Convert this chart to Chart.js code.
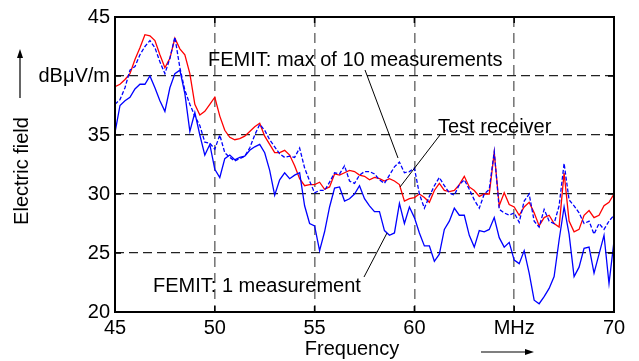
<!DOCTYPE html>
<html>
<head>
<meta charset="utf-8">
<script src="https://cdn.jsdelivr.net/npm/chart.js@4.4.1/dist/chart.umd.min.js"></script>
<style>
  html, body { margin: 0; padding: 0; background: #fff; }
  #wrap { width: 639px; height: 361px; position: relative; }
</style>
</head>
<body>
<div id="wrap"><canvas id="chart"></canvas></div>
<script>
// frequency grid in MHz
const freqs = [
  45, 45.25, 45.5, 45.75, 46, 46.25, 46.5, 46.75, 47, 47.25,
  47.5, 47.75, 48, 48.25, 48.5, 48.75, 49, 49.25, 49.5, 49.75,
  50, 50.25, 50.5, 50.75, 51, 51.25, 51.5, 51.75, 52, 52.25,
  52.5, 52.75, 53, 53.25, 53.5, 53.75, 54, 54.25, 54.5, 54.75,
  55, 55.25, 55.5, 55.75, 56, 56.25, 56.5, 56.75, 57, 57.25,
  57.5, 57.75, 58, 58.25, 58.5, 58.75, 59, 59.25, 59.5, 59.75,
  60, 60.25, 60.5, 60.75, 61, 61.25, 61.5, 61.75, 62, 62.25,
  62.5, 62.75, 63, 63.25, 63.5, 63.75, 64, 64.25, 64.5, 64.75,
  65, 65.25, 65.5, 65.75, 66, 66.25, 66.5, 66.75, 67, 67.25,
  67.5, 67.75, 68, 68.25, 68.5, 68.75, 69, 69.25, 69.5, 69.75, 70
];

// test receiver (red)
const testReceiver = [
  39.1, 39.3, 39.7, 40.2, 41.4, 42.4, 43.5, 43.4, 43.0, 41.8,
  40.7, 41.5, 43.2, 42.3, 41.8, 40.2, 37.6, 36.7, 37.0, 37.6,
  38.2, 36.6, 35.4, 34.8, 34.6, 34.7, 34.9, 35.3, 35.7, 36.0,
  34.9, 34.2, 33.5, 33.5, 33.7, 33.3, 32.4, 31.3, 30.7, 30.8,
  30.8, 31.0, 30.4, 30.6, 31.7, 31.6, 31.8, 32.0, 31.9, 31.6,
  31.5, 31.2, 31.4, 31.3, 31.1, 31.3, 31.1, 30.8, 29.4, 29.6,
  29.7, 30.0, 29.7, 29.3, 30.3, 30.9, 30.3, 30.2, 30.3, 30.8,
  31.5, 30.6, 30.3, 29.8, 30.0, 30.0, 33.5, 29.0, 30.1, 29.1,
  28.9, 28.2, 28.9, 29.3, 28.4, 27.3, 28.0, 28.2, 27.5, 27.2,
  31.8, 27.7, 26.8, 27.0, 28.2, 28.6, 28.0, 28.2, 29.0, 29.3, 30.0
];

// FEMIT, max of 10 measurements (blue dashed)
const femitMax10 = [
  37.6, 38.0, 39.0, 40.5, 40.8, 41.8, 42.5, 43.0, 42.4, 41.2,
  40.2, 41.5, 43.3, 40.7, 38.8, 37.6, 36.6, 35.8, 34.4, 34.3,
  33.8, 35.0, 33.5, 33.1, 32.8, 33.0, 33.2, 33.9, 35.0, 35.9,
  35.4, 34.6, 34.0, 33.4, 33.1, 33.2, 33.1, 33.9, 32.2, 31.1,
  30.1, 30.3, 30.3, 31.0, 31.8, 31.7, 32.4, 31.1, 30.9, 31.6,
  31.9, 31.9, 31.7, 31.2, 30.9, 31.6, 32.3, 32.7, 31.8, 31.9,
  32.2, 30.0, 28.8, 29.8, 30.7, 31.4, 30.7, 30.1, 29.9, 30.8,
  31.2, 30.4, 29.5, 28.8, 30.0, 30.4, 33.6, 28.7, 28.4, 28.2,
  28.4, 27.6, 29.4, 30.0, 27.7, 27.2, 28.7, 27.7, 27.5, 29.0,
  32.6, 29.5, 29.0, 28.4, 27.5, 27.7, 26.6, 27.5, 27.0, 27.7, 28.2
];

// FEMIT, 1 measurement (blue solid)
const femitSingle = [
  35.2, 37.5, 37.9, 38.2, 38.9, 39.3, 39.3, 40.0, 39.0, 37.9,
  37.0, 39.0, 40.2, 40.5, 38.5, 35.3, 36.9, 35.0, 33.3, 34.2,
  32.1, 31.4, 33.0, 33.3, 32.9, 33.1, 33.2, 33.7, 34.0, 34.2,
  33.5, 32.0, 29.9, 31.2, 31.8, 31.3, 31.6, 31.8, 29.0, 27.5,
  27.3, 25.2, 26.8, 28.9, 30.5, 30.6, 29.4, 29.6, 30.0, 30.7,
  29.6, 29.0, 28.5, 28.5, 26.9, 26.5, 26.7, 29.2, 27.5, 28.9,
  28.0, 26.7, 25.6, 25.6, 24.3, 24.9, 27.0, 27.7, 28.8, 28.2,
  28.2, 26.5, 25.5, 26.9, 26.8, 27.0, 28.0, 26.3, 25.5, 25.9,
  24.4, 24.1, 25.2, 23.3, 21.0, 20.7, 21.3, 22.0, 23.0, 26.1,
  28.9, 26.6, 23.0, 23.8, 25.4, 25.5, 23.3, 24.9, 26.5, 22.4, 26.0
];

// tick positions and their texts (unit replaces one number on each axis)
const xTickValues = [45, 50, 55, 60, 65, 70];
const xTickLabels = ["45", "50", "55", "60", "MHz", "70"];
const yTickValues = [20, 25, 30, 35, 40, 45];
const yTickLabels = ["20", "25", "30", "35", "dB\u03bcV/m", "45"];

const FONT = "'Liberation Sans', Arial, sans-serif";

function toPoints(arr) {
  return freqs.map((f, i) => ({ x: f, y: arr[i] }));
}

/**
 * frame, inward ticks, axis texts and annotations
 */
const decorPlugin = {
  id: "decor",
  afterDatasetsDraw(chart) {
    const ctx = chart.ctx;
    const a = chart.chartArea;
    const xs = chart.scales.x, ys = chart.scales.y;
    ctx.save();
    ctx.strokeStyle = "#000";
    ctx.lineWidth = 1.5;
    xTickValues.forEach(v => {
      const px = xs.getPixelForValue(v);
      ctx.beginPath();
      ctx.moveTo(px, a.bottom); ctx.lineTo(px, a.bottom - 6);
      ctx.moveTo(px, a.top); ctx.lineTo(px, a.top + 6);
      ctx.stroke();
    });
    yTickValues.forEach(v => {
      const py = ys.getPixelForValue(v);
      ctx.beginPath();
      ctx.moveTo(a.left, py); ctx.lineTo(a.left + 6, py);
      ctx.moveTo(a.right, py); ctx.lineTo(a.right - 6, py);
      ctx.stroke();
    });
    ctx.lineWidth = 2;
    ctx.strokeRect(a.left, a.top, a.right - a.left, a.bottom - a.top);
    ctx.restore();
  },
  afterDraw(chart) {
    const ctx = chart.ctx;
    ctx.save();
    ctx.fillStyle = "#000";
    ctx.strokeStyle = "#000";
    ctx.font = "20px " + FONT;
    ctx.textBaseline = "middle";

    // axis titles
    ctx.textAlign = "center";
    ctx.fillText("Frequency", 352, 349);
    ctx.save();
    ctx.translate(22, 171);
    ctx.rotate(-Math.PI / 2);
    ctx.fillText("Electric field", 0, 0);
    ctx.restore();

    // arrows
    ctx.lineWidth = 1.2;
    ctx.beginPath();
    ctx.moveTo(481, 352); ctx.lineTo(528, 352);
    ctx.moveTo(20, 98); ctx.lineTo(20, 55);
    ctx.stroke();
    ctx.beginPath();
    ctx.moveTo(534, 352); ctx.lineTo(525, 349); ctx.lineTo(525, 355); ctx.closePath();
    ctx.moveTo(20, 49); ctx.lineTo(17, 58); ctx.lineTo(23, 58); ctx.closePath();
    ctx.fill();

    // annotations
    ctx.textAlign = "left";
    ctx.fillText("FEMIT: max of 10 measurements", 208, 60);
    ctx.fillText("Test receiver", 438, 127);
    ctx.fillText("FEMIT: 1 measurement", 153, 286);

    ctx.lineWidth = 1;
    ctx.beginPath();
    ctx.moveTo(365, 70); ctx.lineTo(398, 158);
    ctx.moveTo(440, 135); ctx.lineTo(400, 187);
    ctx.moveTo(364, 277); ctx.lineTo(387, 233);
    ctx.stroke();
    ctx.restore();
  }
};

function runChart() {
  const ctx = document.getElementById("chart");
  const data = {
    datasets: [
      {
        label: "FEMIT: 1 measurement",
        data: toPoints(femitSingle),
        borderColor: "#0000ff",
        borderWidth: 1.3
      },
      {
        label: "FEMIT: max of 10 measurements",
        data: toPoints(femitMax10),
        borderColor: "#0000ff",
        borderWidth: 1.3,
        borderDash: [4, 2]
      },
      {
        label: "Test receiver",
        data: toPoints(testReceiver),
        borderColor: "#ff0000",
        borderWidth: 1.3
      }
    ]
  };

  const options = {
    responsive: true,
    maintainAspectRatio: false,
    animation: false,
    layout: { padding: { top: 15, right: 25, left: 0, bottom: 0 } },
    elements: { point: { radius: 0 }, line: { tension: 0 } },
    plugins: { legend: { display: false }, tooltip: { enabled: false } },
    scales: {
      x: {
        type: "linear",
        min: 45,
        max: 70,
        afterFit: s => { s.height = 49; },
        afterBuildTicks: s => { s.ticks = xTickValues.map(v => ({ value: v })); },
        ticks: {
          color: "#000",
          font: { family: FONT, size: 20 },
          padding: 4,
          maxRotation: 0,
          autoSkip: false,
          callback: v => xTickLabels[xTickValues.indexOf(v)]
        },
        grid: { color: "#7a7a7a", lineWidth: 1.6, drawTicks: false },
        border: { display: false, dash: [10, 6] }
      },
      y: {
        min: 20,
        max: 45,
        afterFit: s => { s.width = 115; },
        afterBuildTicks: s => { s.ticks = yTickValues.map(v => ({ value: v })); },
        ticks: {
          color: "#000",
          font: { family: FONT, size: 20 },
          padding: 5,
          callback: v => yTickLabels[yTickValues.indexOf(v)]
        },
        grid: { color: "#222", lineWidth: 1.2, drawTicks: false },
        border: { display: false, dash: [9, 5] }
      }
    }
  };

  new Chart(ctx, { type: "line", data, options, plugins: [decorPlugin] });
}

runChart();
</script>
</body>
</html>
